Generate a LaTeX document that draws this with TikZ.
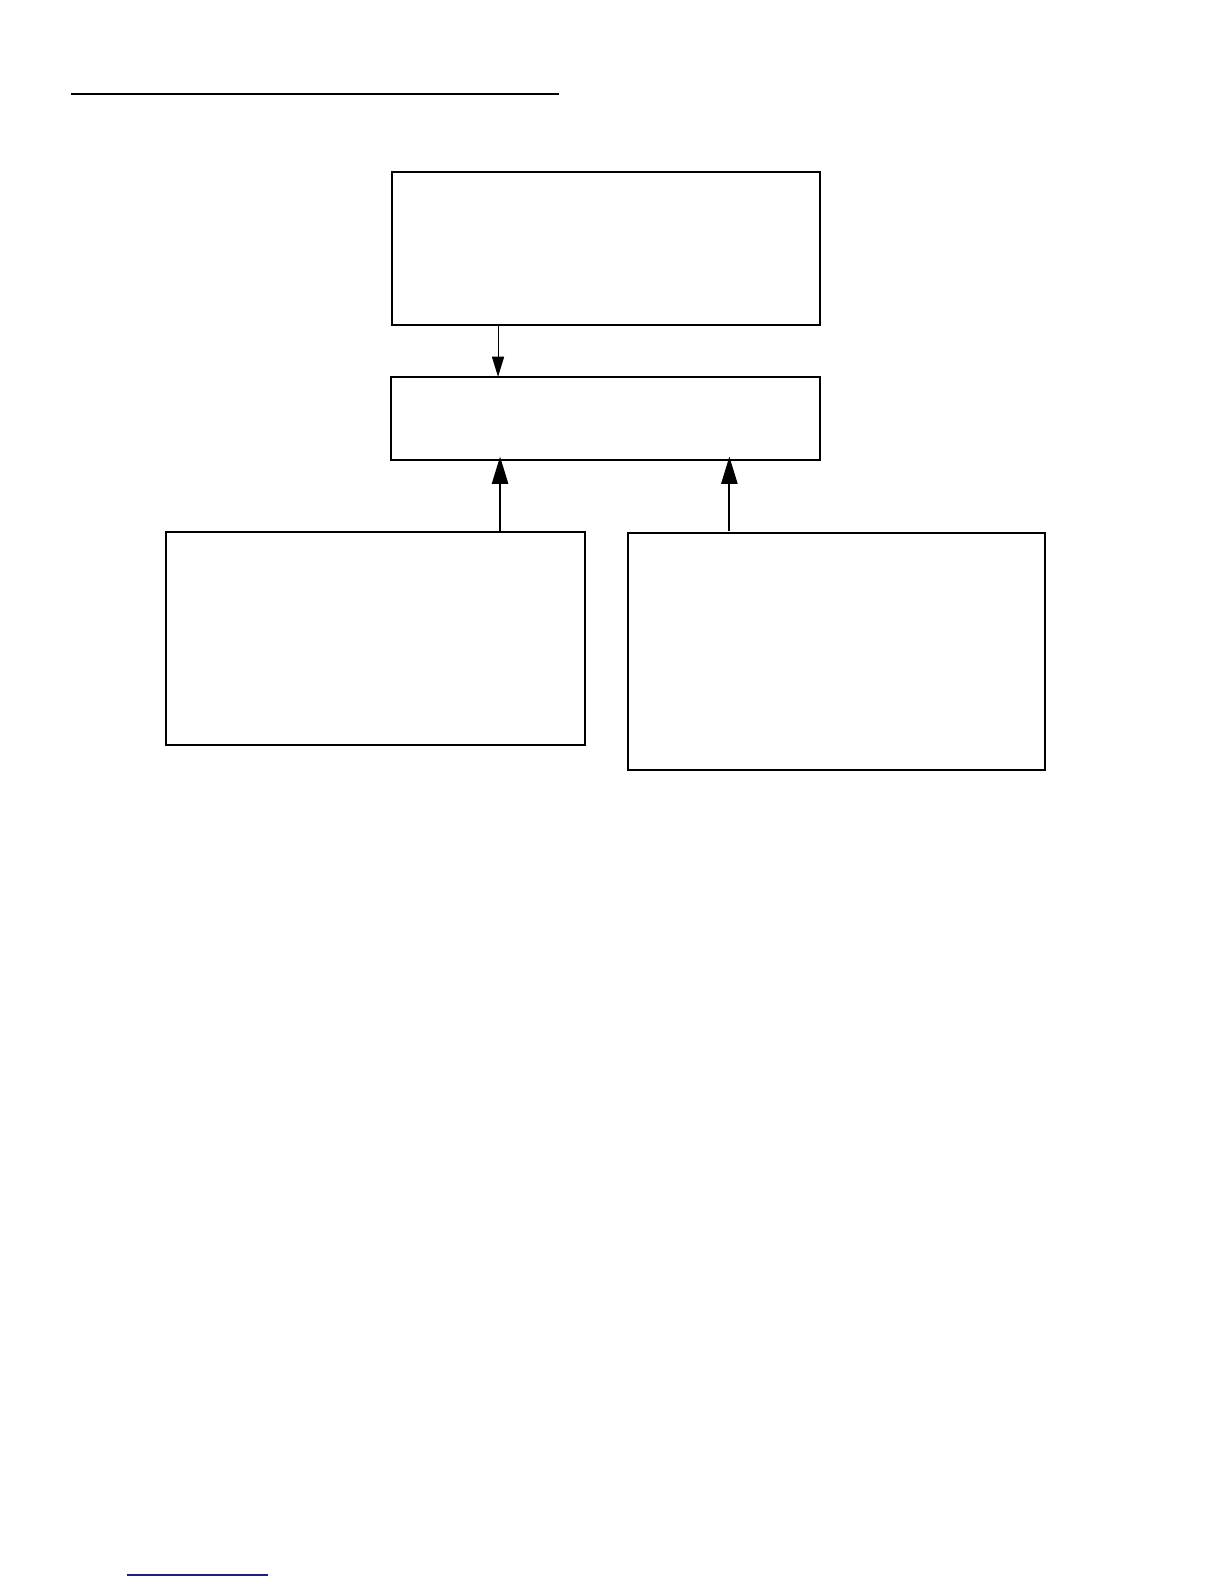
\documentclass[tikz,border=0pt]{standalone}
\usetikzlibrary{arrows.meta}
\definecolor{linkblue}{RGB}{30,30,140}
\begin{document}
\begin{tikzpicture}[
    x=1pt,y=-1pt,
    blk/.style={draw, line width=2pt, inner sep=0pt, outer sep=0pt, anchor=north west},
    thin arr/.style={line width=1pt, -{Triangle[length=20pt,width=12pt]}},
    thick arr/.style={line width=2pt, -{Triangle[length=27pt,width=16pt]}}
    ]
	\useasboundingbox (0,0) rectangle (1212,1568);
	% rules at top and bottom of the page
	\draw [line width=1.3pt] (70,93) coordinate (r1) -- (553,93) coordinate (r2);
	\draw [linkblue, line width=1.3pt] (126,1559) coordinate (l1) -- (265,1559) coordinate (l2);
	% boxes
	\node [blk, minimum width=424pt, minimum height=152pt] (top) at (388,170) {};
	\node [blk, minimum width=425pt, minimum height=82pt] (mid) at (387,373) {};
	\node [blk, minimum width=415pt, minimum height=210pt] (left) at (164,527) {};
	\node [blk, minimum width=412pt, minimum height=234pt] (right) at (622,528) {};
	% arrows
	\draw [thin arr] ([xshift=105pt]top.south west) -- ([xshift=106pt]mid.north west);
	\draw [thick arr] ([xshift=331pt]left.north west) -- ([xshift=108pt,yshift=3pt]mid.south west);
	\draw [thick arr] ([xshift=100pt,yshift=2pt]right.north west) -- ([xshift=335pt,yshift=3pt]mid.south west);
\end{tikzpicture}
\end{document}
